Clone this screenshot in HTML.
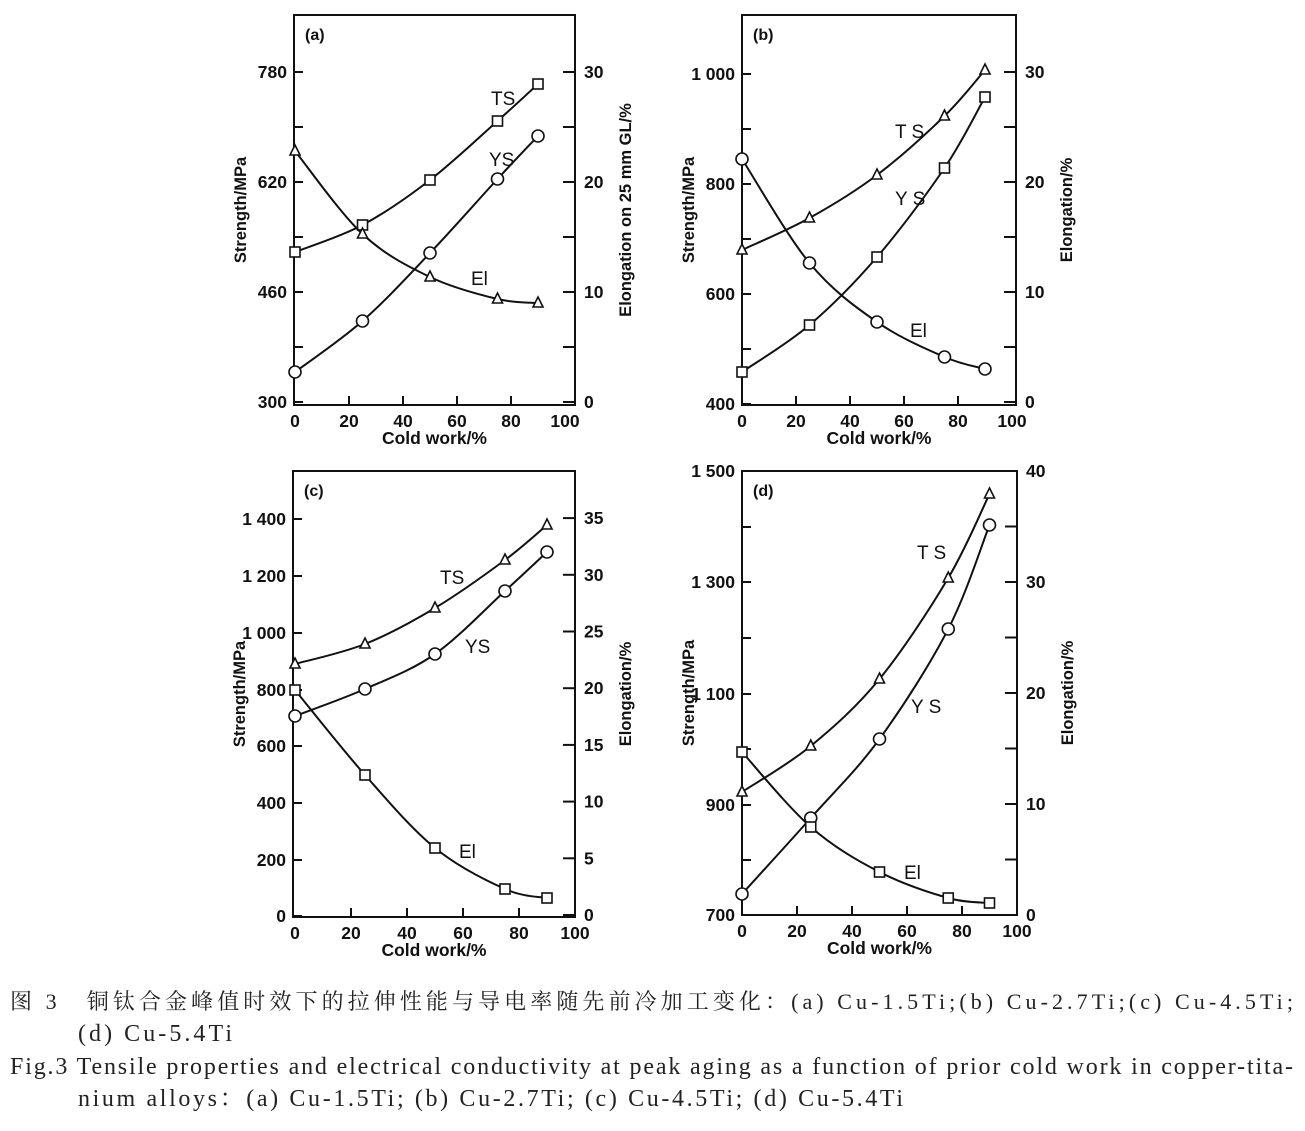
<!DOCTYPE html>
<html><head><meta charset="utf-8">
<style>
html,body{margin:0;padding:0;background:#fff;}
svg{display:block;}
.t{font-family:"Liberation Sans",Arial,sans-serif;font-weight:bold;font-size:17.5px;fill:#111;}
.c{font-family:"Liberation Serif","Noto Serif CJK SC",serif;font-size:24px;fill:#222;}
</style></head>
<body>
<svg id="s" width="1305" height="1131" viewBox="0 0 1305 1131" xmlns="http://www.w3.org/2000/svg">
<g id="g" stroke="#111" fill="none" stroke-width="2"></g>
<g id="tx"></g>
<text class="c" x="10" y="1009" textLength="1283" lengthAdjust="spacing" style="font-size:22px">图 3　铜钛合金峰值时效下的拉伸性能与导电率随先前冷加工变化：(a) Cu-1.5Ti;(b) Cu-2.7Ti;(c) Cu-4.5Ti;</text>
<text class="c" x="78" y="1041" textLength="154" lengthAdjust="spacing">(d) Cu-5.4Ti</text>
<text class="c" x="10" y="1074" textLength="1283" lengthAdjust="spacing">Fig.3 Tensile properties and electrical conductivity at peak aging as a function of prior cold work in copper-tita-</text>
<text class="c" x="78" y="1106" textLength="825" lengthAdjust="spacing">nium alloys：(a) Cu-1.5Ti; (b) Cu-2.7Ti; (c) Cu-4.5Ti; (d) Cu-5.4Ti</text>
</svg>
<script>
var g=document.getElementById('g'),tx=document.getElementById('tx');
var NS="http://www.w3.org/2000/svg";
function el(p,n,a){var e=document.createElementNS(NS,n);for(var k in a)e.setAttribute(k,a[k]);p.appendChild(e);return e;}
function txt(x,y,s,o){o=o||{};var a={x:x,y:y,'class':'t'};if(o.a)a['text-anchor']=o.a;if(o.r)a.transform='rotate(-90 '+x+' '+y+')';if(o.fs)a.style='font-size:'+o.fs+'px';if(o.w)a.style=(a.style||'')+';font-weight:'+o.w;var e=el(tx,'text',a);e.textContent=s;}
function curve(pts){var d='M'+pts[0][0]+' '+pts[0][1];for(var i=0;i<pts.length-1;i++){var p0=pts[i-1]||pts[i],p1=pts[i],p2=pts[i+1],p3=pts[i+2]||p2;
var c1=[p1[0]+(p2[0]-p0[0])/6,p1[1]+(p2[1]-p0[1])/6],c2=[p2[0]-(p3[0]-p1[0])/6,p2[1]-(p3[1]-p1[1])/6];
d+=' C'+c1[0]+' '+c1[1]+' '+c2[0]+' '+c2[1]+' '+p2[0]+' '+p2[1];}
el(g,'path',{d:d});}
function mark(t,x,y){if(t=='s')el(g,'rect',{x:x-5,y:y-5,width:10,height:10,fill:'#fff','stroke-width':1.6});
else if(t=='c')el(g,'circle',{cx:x,cy:y,r:6,fill:'#fff','stroke-width':1.6});
else el(g,'path',{d:'M'+x+' '+(y-6)+' L'+(x+5)+' '+(y+4)+' L'+(x-5)+' '+(y+4)+'Z',fill:'#fff','stroke-width':1.6});}
function series(xs,ys,t){var p=xs.map(function(x,i){return[x,ys[i]]});curve(p);p.forEach(function(q){mark(t,q[0],q[1])});}
function panel(P){
 el(g,'rect',{x:P.L,y:P.T,width:P.R-P.L,height:P.B-P.T});
 for(var v=0;v<=100;v+=20){var x=P.x0+P.kx*v;if(v>0&&v<100)el(g,'line',{x1:x,y1:P.B,x2:x,y2:P.B-9});txt(x,P.B+22,String(v),{a:'middle'});}
 P.ly.forEach(function(q){el(g,'line',{x1:P.L,y1:q[1],x2:P.L+9,y2:q[1]});txt(P.L-7,q[1]+6,q[0],{a:'end'});});
 P.ry.forEach(function(q){el(g,'line',{x1:P.R,y1:q[1],x2:P.R-12,y2:q[1]});if(q[0]!=='')txt(P.R+9,q[1]+6,q[0]);});
 txt((P.L+P.R)/2,P.B+39,'Cold work/%',{a:'middle'});
 txt(P.L+11,P.T+25,P.lab,{fs:16});
 txt(P.L-48,(P.T+P.B)/2+(P.lo||0),'Strength/MPa',{a:'middle',r:1,fs:16.5});
 txt(P.R+56,(P.T+P.B)/2+(P.ro||0),P.rl,{a:'middle',r:1,fs:16.5});
 var xs=[0,25,50,75,90].map(function(v){return P.x0+P.kx*v});
 P.s.forEach(function(s){series(xs,s[1],s[0]);});
 P.n.forEach(function(n){txt(n[1],n[2],n[0],{fs:19,w:'normal'});});
}
function rys(top,bot,n,step){var a=[];for(var i=0;i<=n*2;i++){var y=bot-(bot-top)*i/(n*2);a.push([i%2==0?String(i/2*step):'',y]);}return a;}
panel({L:294,R:575,T:15,B:405,x0:295,kx:2.7,lab:'(a)',rl:'Elongation on 25 mm GL/%',
 ly:[['780',72],['620',182],['460',292],['300',402],['',127],['',237],['',347]],
 ry:rys(72,402,3,10),
 s:[['s',[252,225,180,121,84]],['c',[372,321,253,179,136]],['t',[151,234,277,299,303]]],
 n:[['TS',491,105],['YS',489,166],['El',471,285]]});
panel({L:742,R:1016,T:15,B:405,x0:742,kx:2.7,lab:'(b)',rl:'Elongation/%',
 ly:[['1 000',74],['800',184],['600',294],['400',404],['',129],['',239],['',349]],
 ry:rys(72,402,3,10),
 s:[['t',[250,218,175,116,70]],['s',[372,325,257,168,97]],['c',[159,263,322,357,369]]],
 n:[['T S',895,138],['Y S',895,205],['El',910,337]]});
panel({L:293,R:575,T:471,B:917,x0:295,kx:2.8,lab:'(c)',rl:'Elongation/%',
 ly:[['1 400',519],['1 200',576],['1 000',633],['800',690],['600',746],['400',803],['200',860],['0',916]],
 ry:(function(){var a=[];for(var i=0;i<=7;i++)a.push([String(i*5),915-i*56.7]);return a;})(),
 s:[['t',[664,644,608,560,525]],['c',[716,689,654,591,552]],['s',[690,775,848,889,898]]],
 n:[['TS',440,584],['YS',465,653],['El',459,858]]});
panel({L:742,R:1017,T:471,B:915,x0:742,kx:2.75,lab:'(d)',rl:'Elongation/%',
 ly:[['1 500',471],['1 300',582],['1 100',694],['900',805],['700',915],['',527],['',638],['',749],['',860]],
 ry:rys(471,915,4,10),
 s:[['t',[792,746,679,578,494]],['c',[894,818,739,629,525]],['s',[752,827,872,898,903]]],
 n:[['T S',917,559],['Y S',911,713],['El',904,879]]});
</script>
</body></html>
